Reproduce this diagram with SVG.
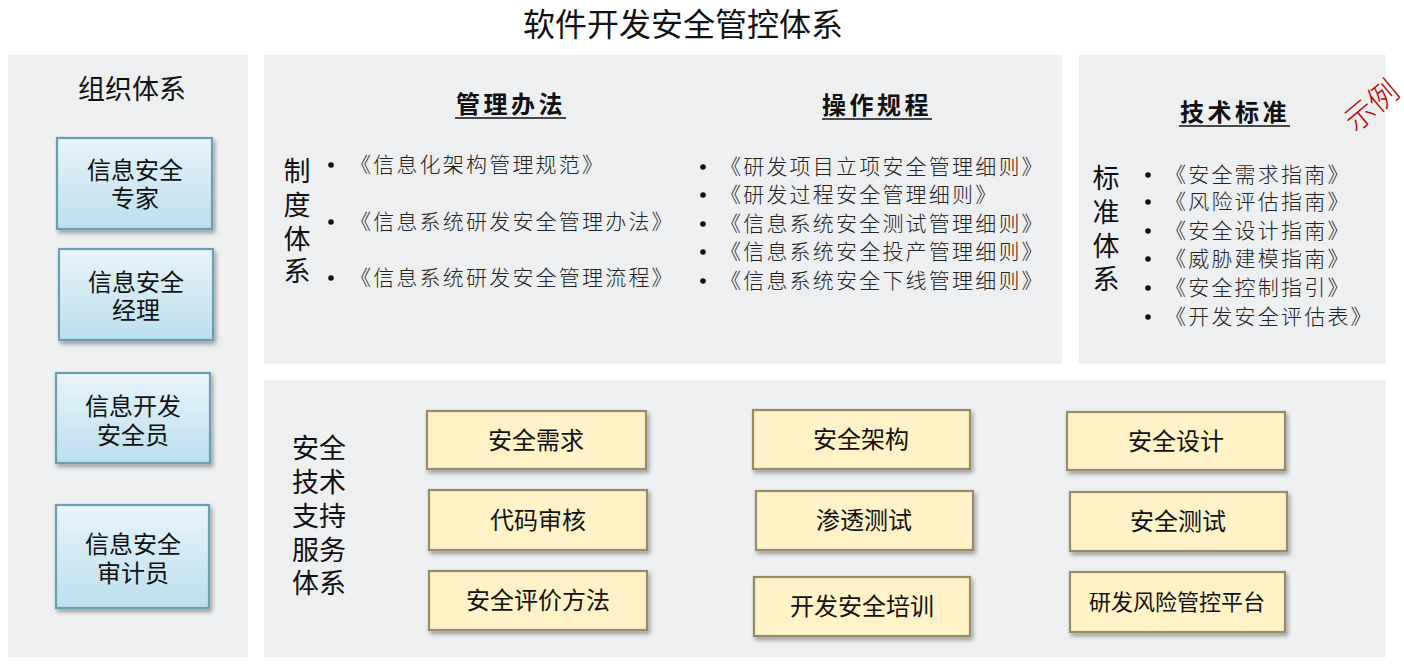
<svg xmlns="http://www.w3.org/2000/svg" width="1404" height="665" viewBox="0 0 1404 665">
<defs>
<linearGradient id="gBlue" x1="0" y1="0" x2="0" y2="1">
<stop offset="0" stop-color="#E8F4FA"/>
<stop offset="1" stop-color="#BBDFEF"/>
</linearGradient>
<filter id="sh" x="-10%" y="-10%" width="130%" height="140%">
<feDropShadow dx="2" dy="3" stdDeviation="2" flood-color="#000" flood-opacity="0.35"/>
</filter>
<style>
.panel{fill:#EEEFF1}
.blue{fill:url(#gBlue);stroke:#6A9FB2;stroke-width:2.2}
.yel{fill:#FEF2C6;stroke:#968A68;stroke-width:2.2}
.sans{font-family:"Noto Sans CJK SC","Noto Sans",sans-serif;fill:#111}
.lbl{font-size:24px;text-anchor:middle}
.vert{font-size:27px}
.head{font-family:"Noto Sans CJK SC",sans-serif;font-size:24px;font-weight:bold;fill:#111;text-anchor:middle;letter-spacing:3.5px}
.item{font-family:"Noto Sans CJK SC",sans-serif;font-size:21px;font-weight:300;fill:#222;letter-spacing:2.2px}
.ul{stroke:#111;stroke-width:1.6}
.dot{fill:#111}
</style>
</defs>
<rect width="1404" height="665" fill="#FFFFFF"/>
<text class="sans" x="683" y="36" font-size="32" text-anchor="middle">软件开发安全管控体系</text>

<!-- panels -->
<rect class="panel" x="8" y="55" width="240" height="602"/>
<rect class="panel" x="264" y="55" width="798" height="309"/>
<rect class="panel" x="1079" y="55" width="307" height="309"/>
<rect class="panel" x="264" y="380" width="1122" height="277"/>

<!-- organisation -->
<g id="org">
<text class="sans" x="132" y="99" font-size="27" text-anchor="middle">组织体系</text>
<g id="n-expert">
<rect class="blue" x="57" y="138" width="155" height="91" filter="url(#sh)"/>
<text class="sans lbl" x="135" y="179">信息安全<tspan x="135" dy="28">专家</tspan></text>
</g>
<g id="n-manager">
<rect class="blue" x="59" y="249" width="154" height="91" filter="url(#sh)"/>
<text class="sans lbl" x="136" y="291">信息安全<tspan x="136" dy="28">经理</tspan></text>
</g>
<g id="n-dev">
<rect class="blue" x="56" y="373" width="154" height="90" filter="url(#sh)"/>
<text class="sans lbl" x="133" y="415">信息开发<tspan x="133" dy="29">安全员</tspan></text>
</g>
<g id="n-audit">
<rect class="blue" x="56" y="505" width="153" height="103" filter="url(#sh)"/>
<text class="sans lbl" x="133" y="553">信息安全<tspan x="133" dy="29">审计员</tspan></text>
</g>
</g>

<!-- institution system -->
<g id="zhidu">
<text class="sans vert" x="297" y="181" text-anchor="middle">制<tspan x="297" dy="34">度</tspan><tspan x="297" dy="34">体</tspan><tspan x="297" dy="32">系</tspan></text>
<text class="head" x="511" y="113">管理办法</text>
<line class="ul" x1="455" y1="118" x2="566" y2="118"/>
<circle class="dot" cx="331" cy="165" r="2.8"/>
<circle class="dot" cx="331" cy="222" r="2.8"/>
<circle class="dot" cx="331" cy="278" r="2.8"/>
<text class="item" x="350" y="172">《信息化架构管理规范》<tspan x="350" dy="57">《信息系统研发安全管理办法》</tspan><tspan x="350" dy="56">《信息系统研发安全管理流程》</tspan></text>
<text class="head" x="877" y="114">操作规程</text>
<line class="ul" x1="822" y1="119" x2="932" y2="119"/>
<circle class="dot" cx="703" cy="167" r="2.8"/>
<circle class="dot" cx="703" cy="195" r="2.8"/>
<circle class="dot" cx="703" cy="224" r="2.8"/>
<circle class="dot" cx="703" cy="252" r="2.8"/>
<circle class="dot" cx="703" cy="281" r="2.8"/>
<text class="item" x="720" y="174">《研发项目立项安全管理细则》<tspan x="720" dy="28">《研发过程安全管理细则》</tspan><tspan x="720" dy="29">《信息系统安全测试管理细则》</tspan><tspan x="720" dy="28">《信息系统安全投产管理细则》</tspan><tspan x="720" dy="29">《信息系统安全下线管理细则》</tspan></text>
</g>

<!-- standards -->
<g id="biaozhun">
<text class="head" x="1235" y="121">技术标准</text>
<line class="ul" x1="1179" y1="126" x2="1290" y2="126"/>
<text x="1372" y="116" font-family="Noto Sans CJK SC,sans-serif" font-size="30" font-weight="300" fill="#C00000" text-anchor="middle" transform="rotate(-40 1372 106)">示例</text>
<text class="sans vert" x="1106" y="188" text-anchor="middle">标<tspan x="1106" dy="34">准</tspan><tspan x="1106" dy="34">体</tspan><tspan x="1106" dy="33">系</tspan></text>
<circle class="dot" cx="1148" cy="175" r="2.8"/>
<circle class="dot" cx="1148" cy="202" r="2.8"/>
<circle class="dot" cx="1148" cy="231" r="2.8"/>
<circle class="dot" cx="1148" cy="259" r="2.8"/>
<circle class="dot" cx="1148" cy="288" r="2.8"/>
<circle class="dot" cx="1148" cy="317" r="2.8"/>
<text class="item" x="1165" y="182">《安全需求指南》<tspan x="1165" dy="27">《风险评估指南》</tspan><tspan x="1165" dy="29">《安全设计指南》</tspan><tspan x="1165" dy="28">《威胁建模指南》</tspan><tspan x="1165" dy="29">《安全控制指引》</tspan><tspan x="1165" dy="29">《开发安全评估表》</tspan></text>
</g>

<!-- technical support services -->
<g id="jishu">
<text class="sans vert" x="292" y="458">安全<tspan x="292" dy="34">技术</tspan><tspan x="292" dy="34">支持</tspan><tspan x="292" dy="34">服务</tspan><tspan x="292" dy="33">体系</tspan></text>
</g>
<g id="s-req"><rect class="yel" x="427" y="411" width="219" height="58" filter="url(#sh)"/><text class="sans lbl" x="536" y="449">安全需求</text></g>
<g id="s-code"><rect class="yel" x="429" y="490" width="218" height="60" filter="url(#sh)"/><text class="sans lbl" x="538" y="529">代码审核</text></g>
<g id="s-eval"><rect class="yel" x="429" y="571" width="218" height="59" filter="url(#sh)"/><text class="sans lbl" x="538" y="609">安全评价方法</text></g>
<g id="s-arch"><rect class="yel" x="753" y="410" width="217" height="59" filter="url(#sh)"/><text class="sans lbl" x="861" y="448">安全架构</text></g>
<g id="s-pen"><rect class="yel" x="756" y="491" width="217" height="59" filter="url(#sh)"/><text class="sans lbl" x="864" y="529">渗透测试</text></g>
<g id="s-train"><rect class="yel" x="754" y="577" width="216" height="59" filter="url(#sh)"/><text class="sans lbl" x="862" y="615">开发安全培训</text></g>
<g id="s-design"><rect class="yel" x="1067" y="412" width="218" height="58" filter="url(#sh)"/><text class="sans lbl" x="1176" y="450">安全设计</text></g>
<g id="s-test"><rect class="yel" x="1070" y="492" width="217" height="59" filter="url(#sh)"/><text class="sans lbl" x="1178" y="530">安全测试</text></g>
<g id="s-plat"><rect class="yel" x="1070" y="572" width="215" height="60" filter="url(#sh)"/><text class="sans" x="1177" y="610" font-size="22" text-anchor="middle">研发风险管控平台</text></g>
<g id="connectors"></g>
</svg>
